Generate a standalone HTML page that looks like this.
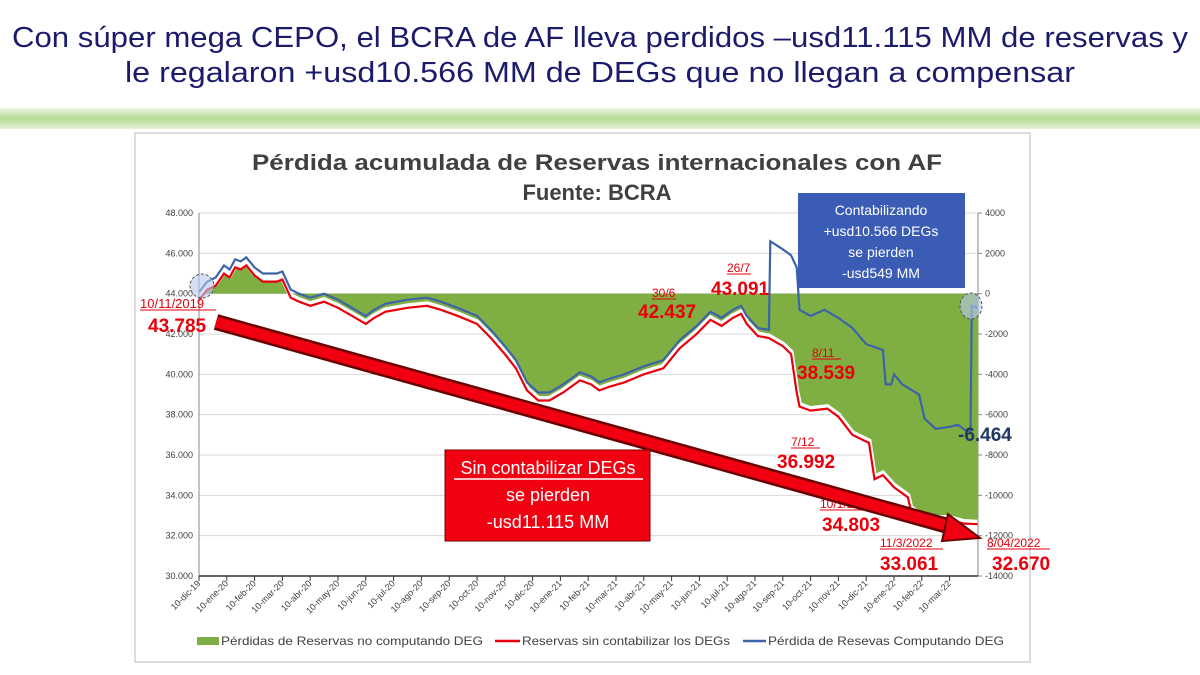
<!DOCTYPE html>
<html><head><meta charset="utf-8">
<style>html,body{margin:0;padding:0;background:#fff;}svg{display:block}</style>
</head><body>
<svg id="s" width="1200" height="675" viewBox="0 0 1200 675" xmlns="http://www.w3.org/2000/svg" font-family="Liberation Sans, sans-serif">
<defs>
<linearGradient id="band" x1="0" y1="0" x2="0" y2="1">
<stop offset="0" stop-color="#eef6e6"/><stop offset="0.5" stop-color="#b5d994"/><stop offset="1" stop-color="#e6f2da"/>
</linearGradient>
</defs>
<rect width="1200" height="675" fill="#fff"/>
<text x="600" y="47" text-anchor="middle" font-size="29" fill="#1b1b6b" textLength="1176" lengthAdjust="spacingAndGlyphs">Con súper mega CEPO, el BCRA de AF lleva perdidos –usd11.115 MM de reservas y</text>
<text x="600" y="82" text-anchor="middle" font-size="29" fill="#1b1b6b" textLength="950" lengthAdjust="spacingAndGlyphs">le regalaron +usd10.566 MM de DEGs que no llegan a compensar</text>
<rect x="0" y="108" width="1200" height="21" fill="url(#band)"/>
<rect x="135" y="133" width="895" height="529" fill="#fff" stroke="#d0d0d0" stroke-width="1.5"/>
<text x="597" y="170" text-anchor="middle" font-size="22" font-weight="bold" fill="#404040" textLength="690" lengthAdjust="spacingAndGlyphs">Pérdida acumulada de Reservas internacionales con AF</text>
<text x="597" y="200" text-anchor="middle" font-size="22" font-weight="bold" fill="#404040">Fuente: BCRA</text>
<g id="grid" stroke="#d9d9d9" stroke-width="1"></g>
<g id="plot"></g>
<g id="ax" font-size="9" fill="#404040"></g>
<line x1="199" y1="213" x2="199" y2="576" stroke="#888" stroke-width="1"/>
<line x1="978" y1="213" x2="978" y2="576" stroke="#888" stroke-width="1"/>
<line x1="199" y1="576" x2="978" y2="576" stroke="#333" stroke-width="1.5"/>
<!-- circles -->
<circle cx="202" cy="286" r="12" fill="#b8c8ee" fill-opacity="0.6" stroke="#555" stroke-dasharray="3,2"/>
<ellipse cx="971" cy="306" rx="11" ry="13" fill="#b8c8ee" fill-opacity="0.6" stroke="#555" stroke-dasharray="3,2"/>
<!-- labels -->
<g font-weight="bold" fill="#e8000b">
<text x="140" y="308" font-size="13" font-weight="normal">10/11/2019</text>
<line x1="140" y1="310" x2="216" y2="310" stroke="#e8000b"/>
<text x="148" y="332" font-size="19">43.785</text>
<text x="652" y="297" font-size="12" font-weight="normal">30/6</text><line x1="652" y1="299" x2="676" y2="299" stroke="#e8000b"/>
<text x="638" y="318" font-size="19">42.437</text>
<text x="727" y="272" font-size="12" font-weight="normal">26/7</text><line x1="727" y1="274" x2="751" y2="274" stroke="#e8000b"/>
<text x="711" y="295" font-size="19">43.091</text>
<text x="812" y="357" font-size="12" font-weight="normal">8/11</text><line x1="812" y1="359" x2="841" y2="359" stroke="#e8000b"/>
<text x="797" y="379" font-size="19">38.539</text>
<text x="791" y="446" font-size="12" font-weight="normal">7/12</text><line x1="791" y1="448" x2="820" y2="448" stroke="#e8000b"/>
<text x="777" y="468" font-size="19">36.992</text>
<text x="820" y="508" font-size="12" font-weight="normal">10/1/2022</text><line x1="820" y1="510" x2="884" y2="510" stroke="#e8000b"/>
<text x="822" y="531" font-size="19">34.803</text>
<text x="880" y="547" font-size="12" font-weight="normal">11/3/2022</text><line x1="880" y1="549" x2="943" y2="549" stroke="#e8000b"/>
<text x="880" y="570" font-size="19">33.061</text>
<text x="987" y="547" font-size="12" font-weight="normal">8/04/2022</text><line x1="987" y1="549" x2="1050" y2="549" stroke="#e8000b"/>
<text x="992" y="570" font-size="19">32.670</text>
</g>
<text x="958" y="441" font-size="19" font-weight="bold" fill="#1f3864">-6.464</text>
<!-- arrow -->
<g>
<line x1="216" y1="322" x2="955" y2="528" stroke="#6b0000" stroke-width="16"/>
<line x1="216" y1="322" x2="955" y2="528" stroke="#f00010" stroke-width="11"/>
<polygon points="948,514 980,538 942,541" fill="#f00010" stroke="#6b0000" stroke-width="2"/>
</g>
<!-- red box -->
<rect x="445" y="450" width="205" height="91" fill="#f00010" stroke="#7a0000" stroke-width="1"/>
<text x="548" y="474" text-anchor="middle" font-size="18" fill="#fff">Sin contabilizar DEGs</text>
<line x1="454" y1="479" x2="643" y2="479" stroke="#fff" stroke-width="1.5"/>
<text x="548" y="501" text-anchor="middle" font-size="18" fill="#fff">se pierden</text>
<text x="548" y="528" text-anchor="middle" font-size="18" fill="#fff">-usd11.115 MM</text>
<!-- blue box -->
<rect x="798" y="193" width="167" height="95" fill="#3a5cb5"/>
<text x="881" y="215" text-anchor="middle" font-size="14" fill="#fff">Contabilizando</text>
<text x="881" y="236" text-anchor="middle" font-size="14" fill="#fff">+usd10.566 DEGs</text>
<text x="881" y="257" text-anchor="middle" font-size="14" fill="#fff">se pierden</text>
<text x="881" y="278" text-anchor="middle" font-size="14" fill="#fff">-usd549 MM</text>
<!-- legend -->
<rect x="197" y="637" width="22" height="8" fill="#7fae42"/>
<text x="221" y="645" font-size="12" fill="#404040" textLength="262" lengthAdjust="spacingAndGlyphs">Pérdidas de Reservas no computando DEG</text>
<line x1="495" y1="641" x2="520" y2="641" stroke="#e8000b" stroke-width="2.5"/>
<text x="522" y="645" font-size="12" fill="#404040" textLength="208" lengthAdjust="spacingAndGlyphs">Reservas sin contabilizar los DEGs</text>
<line x1="743" y1="641" x2="766" y2="641" stroke="#3d64a8" stroke-width="2.5"/>
<text x="768" y="645" font-size="12" fill="#404040" textLength="236" lengthAdjust="spacingAndGlyphs">Pérdida de Resevas Computando DEG</text>
</svg>
<script>
(function(){
var NS="http://www.w3.org/2000/svg";
function el(p,n,a,t){var e=document.createElementNS(NS,n);for(var k in a)e.setAttribute(k,a[k]);if(t!=null)e.textContent=t;p.appendChild(e);return e;}
function X(t){return 199+t*27.8;}
function YL(v){return 213+(48000-v)/18000*363;}
function YR(v){return 213+(4000-v)/18000*363;}
var grid=document.getElementById('grid'),ax=document.getElementById('ax'),plot=document.getElementById('plot');
for(var i=0;i<=9;i++){var v=48000-i*2000,y=YL(v);
 if(i<9)el(grid,'line',{x1:199,x2:978,y1:y,y2:y});
 el(ax,'text',{x:193,y:y+3,'text-anchor':'end'},(v/1000).toFixed(3));
 var r=4000-i*2000;el(ax,'text',{x:985,y:y+3},String(r));
 el(ax,'line',{x1:978,x2:982,y1:y,y2:y,stroke:'#888'});}
var m=['dic-19','ene-20','feb-20','mar-20','abr-20','may-20','jun-20','jul-20','ago-20','sep-20','oct-20','nov-20','dic-20','ene-21','feb-21','mar-21','abr-21','may-21','jun-21','jul-21','ago-21','sep-21','oct-21','nov-21','dic-21','ene-22','feb-22','mar-22'];
for(var j=0;j<m.length;j++){var x=X(j);el(ax,'line',{x1:x,x2:x,y1:576,y2:581,stroke:'#333'});
 el(ax,'text',{x:x+2,y:584,'text-anchor':'end',transform:'rotate(-45 '+(x+2)+' 584)','font-size':9},'10-'+m[j]);}
var R=[[0,43785],[0.3,44300],[0.6,44500],[0.9,45100],[1.1,44900],[1.3,45400],[1.5,45300],[1.7,45500],[2,45000],[2.3,44700],[2.8,44700],[3,44800],[3.3,43900],[3.6,43700],[4,43500],[4.5,43700],[5,43400],[5.5,43000],[6,42600],[6.3,42900],[6.7,43200],[7.5,43400],[8.2,43500],[8.7,43300],[9.3,43000],[10,42600],[10.5,41900],[11,41100],[11.4,40400],[11.8,39300],[12.2,38800],[12.6,38800],[13.1,39200],[13.7,39800],[14.1,39600],[14.4,39300],[14.8,39500],[15.3,39700],[16,40100],[16.7,40400],[17.3,41400],[17.9,42100],[18.4,42800],[18.8,42500],[19.2,42900],[19.5,43100],[19.7,42600],[20.1,42000],[20.5,41900],[21,41500],[21.3,41100],[21.5,39200],[21.6,38500],[22,38300],[22.6,38400],[23,38000],[23.5,37100],[23.8,36900],[24.1,36700],[24.3,34900],[24.6,35100],[25,34500],[25.5,34000],[25.6,33400],[26,33000],[26.5,32900],[27,32900],[27.5,32700],[28,32670]];
var d='M'+X(0)+' '+YL(44000);R.forEach(function(p){d+=' L'+X(p[0]).toFixed(1)+' '+YL(p[1]).toFixed(1);});d+=' L'+X(28)+' '+YL(44000)+'Z';
el(plot,'path',{d:d,fill:'#7fae42'});
var rl='';R.forEach(function(p,i){rl+=(i?' L':'M')+X(p[0]).toFixed(1)+' '+YL(p[1]).toFixed(1);});
var B=[];R.forEach(function(p){if(p[0]<=20.5)B.push([p[0],p[1]+250]);});
var bl='';B.forEach(function(p,i){bl+=(i?' L':'M')+X(p[0]).toFixed(1)+' '+(YL(p[1])-1).toFixed(1);});
var BR=[[20.55,2600],[21,2200],[21.3,1900],[21.5,1300],[21.6,-800],[22,-1100],[22.5,-800],[23,-1200],[23.5,-1700],[24,-2500],[24.6,-2800],[24.7,-4500],[24.9,-4500],[25,-4000],[25.3,-4500],[25.9,-5000],[26.1,-6200],[26.5,-6700],[27,-6600],[27.3,-6500],[27.6,-6800],[27.75,-6800],[27.8,-600],[28,-700]];
BR.forEach(function(p){bl+=' L'+X(p[0]).toFixed(1)+' '+YR(p[1]).toFixed(1);});
el(plot,'path',{d:rl,fill:'none',stroke:'#fff',"stroke-width":5});
el(plot,'path',{d:bl,fill:'none',stroke:'#3d64a8',"stroke-width":2.2});
el(plot,'path',{d:rl,fill:'none',stroke:'#e8000b',"stroke-width":2.2,transform:'translate(0,2)'});
})();
</script>
</body></html>
